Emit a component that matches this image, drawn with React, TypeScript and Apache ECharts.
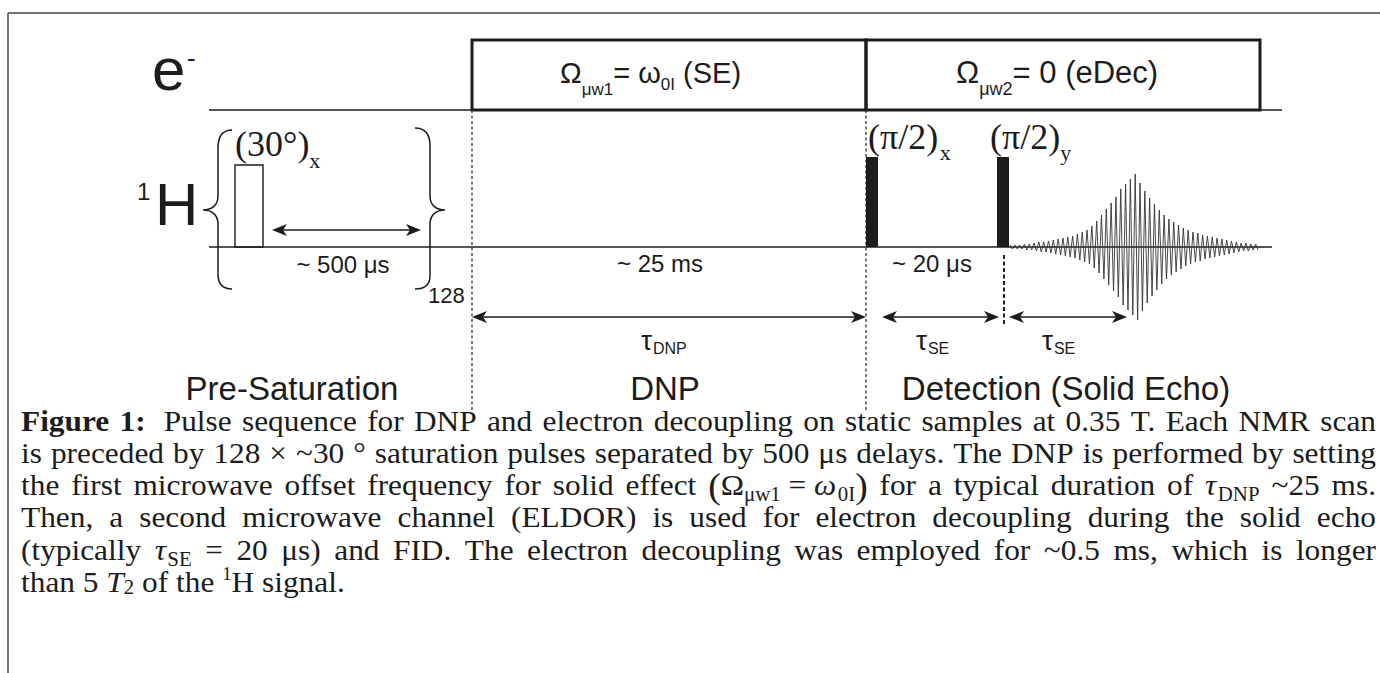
import React, { useEffect, useRef } from "react";
import * as echarts from "echarts";

const SANS = "'Liberation Sans', Arial, Helvetica, sans-serif";
const SERIF = "'Liberation Serif', 'Times New Roman', Times, serif";
const INK = "#1c1c1c";

// ---------------- data ----------------
const phaseLabels = ["Pre-Saturation", "DNP", "Detection (Solid Echo)"];
const delayLabels = ["~ 500 μs", "~ 25 ms", "~ 20 μs"];
const repeatLabel = "128";
const tauLabels = [["τ", "DNP"], ["τ", "SE"], ["τ", "SE"]];
// solid-echo envelope: peak amplitude of each oscillation cycle (px-scale units, max 73)
const fidEnvelope = [
  2, 2, 2, 3, 3, 4, 5, 5, 6, 7, 8, 9, 10, 11, 13, 15, 17, 21, 26, 32, 38, 44, 50, 58, 63, 68,
  73,
  64, 56, 49, 43, 37, 32, 28, 25, 22, 19, 17, 15, 14, 12, 11, 10, 9, 8, 7, 6, 5, 4, 4, 3, 3,
];
const captionLines = [
  "{b|Figure} {b|1:}{sp| } Pulse sequence for DNP and electron decoupling on static samples at 0.35 T. Each NMR scan",
  "is preceded by 128 × ~30 ° saturation pulses separated by 500 μs delays. The DNP is performed by setting",
  "the first microwave offset frequency for solid effect {P|(}{m|Ω}{ms|μw1}{sp| }{m|=}{sp| }{mi|ω}{g| }{ms|0I}{P|)} for a typical duration of {mi|τ}{g| }{ms|DNP} ~25 ms.",
  "Then, a second microwave channel (ELDOR) is used for electron decoupling during the solid echo",
  "(typically {mi|τ}{g| }{ms|SE} {m|=} {m|20} {m|μs}) and FID. The electron decoupling was employed for ~0.5 ms, which is longer",
  "than 5 {i|T}{t2|2} of the {sup|1}H signal.",
];
const captionJustified = [true, true, true, true, true, false];

// ---------------- layout ----------------
const LY = {
  frameX: 8, frameY: 13,
  eLineY: 110, hLineY: 247, lineX0: 209, eLineX1: 1282, hLineX1: 1272,
  boxTop: 40, box1: [472, 866], box2: [866, 1260],
  satPulse: { x: 235, y: 165, w: 28 },
  pi2: [866, 997], pi2Top: 157, pi2W: 12,
  dash: [472, 866], dashY: [110, 412], echoDashX: 1004, echoDashY: [255, 324],
  fid: { left: 1010, top: 174, width: 248, height: 146 },
  capL: 21, capR: 1376, capBase: [431, 463, 495, 527, 560, 592],
};

type Pc = { t: string; size: number; fam: string; weight?: string; style?: string; dy?: number; sx?: number };

let _ctx: CanvasRenderingContext2D | null = null;
function measure(p: Pc) {
  if (!_ctx) _ctx = document.createElement("canvas").getContext("2d");
  const sx = p.sx || 1;
  if (!_ctx) return p.t.length * p.size * 0.5 * sx;
  _ctx.font = `${p.style || "normal"} ${p.weight || "normal"} ${p.size}px ${p.fam}`;
  return _ctx.measureText(p.t).width * sx;
}

function T(x: number, baseline: number, p: Pc, align = "left") {
  const k = p.fam === SERIF ? 0.3375 : 0.3465;
  return {
    type: "text",
    x,
    y: baseline + (p.dy || 0) - k * p.size,
    scaleX: p.sx || 1,
    silent: true,
    style: {
      text: p.t,
      fontSize: p.size,
      fontFamily: p.fam,
      fontWeight: p.weight || "normal",
      fontStyle: p.style || "normal",
      fill: INK,
      textAlign: align,
      textVerticalAlign: "middle",
    },
  };
}

function runEls(x0: number, baseline: number, pcs: Pc[], align = "left") {
  const ws = pcs.map(measure);
  const total = ws.reduce((a, b) => a + b, 0);
  let x = align === "center" ? x0 - total / 2 : x0;
  const els: any[] = [];
  pcs.forEach((p, i) => {
    if (p.t.trim() !== "") els.push(T(x, baseline, p));
    x += ws[i];
  });
  return els;
}

const S = (t: string, size: number, dy = 0): Pc => ({ t, size, fam: SANS, dy });
const R = (t: string, size: number, dy = 0): Pc => ({ t, size, fam: SERIF, dy });

const CAP = 30;
const SX = 1.045;
const CS: Record<string, Omit<Pc, "t">> = {
  n: { size: CAP, fam: SERIF, sx: SX },
  b: { size: CAP, fam: SERIF, weight: "bold", sx: SX },
  i: { size: CAP, fam: SERIF, style: "italic", sx: SX },
  m: { size: CAP, fam: SERIF, sx: SX },
  sp: { size: CAP, fam: SERIF, sx: SX },
  g: { size: 6, fam: SERIF },
  mi: { size: CAP, fam: SERIF, style: "italic", sx: SX },
  ms: { size: 20, fam: SERIF, dy: 6, sx: SX },
  P: { size: 36, fam: SERIF, dy: 3, sx: SX },
  sup: { size: 18, fam: SERIF, dy: -12, sx: SX },
  t2: { size: 20, fam: SERIF, dy: 2, sx: SX },
};

function splitWords(line: string) {
  const words: string[] = [];
  let cur = "";
  let depth = 0;
  for (const ch of line) {
    if (ch === "{") depth++;
    if (ch === "}") depth--;
    if (ch === " " && depth === 0) {
      if (cur) words.push(cur);
      cur = "";
    } else cur += ch;
  }
  if (cur) words.push(cur);
  return words;
}
function parseWord(w: string): Pc[] {
  const out: Pc[] = [];
  const re = /\{(\w+)\|([^}]*)\}|([^{]+)/g;
  let m: RegExpExecArray | null;
  while ((m = re.exec(w))) {
    if (m[1]) out.push({ t: m[2], ...CS[m[1]] });
    else out.push({ t: m[3], ...CS.n });
  }
  return out;
}

function arrow(x1: number, x2: number, y: number) {
  const hl = 15, hw = 6, notch = 11;
  return [
    { type: "line", silent: true, shape: { x1: x1 + notch, y1: y, x2: x2 - notch, y2: y }, style: { stroke: INK, lineWidth: 1.6 } },
    { type: "polygon", silent: true, shape: { points: [[x1, y], [x1 + hl, y - hw], [x1 + notch, y], [x1 + hl, y + hw]] }, style: { fill: INK } },
    { type: "polygon", silent: true, shape: { points: [[x2, y], [x2 - hl, y - hw], [x2 - notch, y], [x2 - hl, y + hw]] }, style: { fill: INK } },
  ];
}

echarts.graphic.registerShape(
  "braceLeft",
  echarts.graphic.extendPath(
    "M232,130 C223,130 218,136 218,148 L218,196 C218,205 212,210 203,210 C212,210 218,215 218,224 L218,274 C218,284 223,289 232,289",
    {}
  )
);
echarts.graphic.registerShape(
  "braceRight",
  echarts.graphic.extendPath(
    "M415,128 C425,128 430,134 430,146 L430,196 C430,205 436,210 445,210 C436,210 430,215 430,224 L430,276 C430,284 425,289 415,289",
    {}
  )
);

function buildGraphic() {
  const g: any[] = [];
  const ln = (x1: number, y1: number, x2: number, y2: number, w = 1.5, dash?: number[], color = INK) => ({
    type: "line", silent: true, shape: { x1, y1, x2, y2 },
    style: { stroke: color, lineWidth: w, lineDash: dash },
  });
  // frame
  g.push(ln(LY.frameX, LY.frameY, 1380, LY.frameY, 1.5, undefined, "#444"));
  g.push(ln(LY.frameX, LY.frameY, LY.frameX, 673, 1.5, undefined, "#444"));
  // channel baselines
  g.push(ln(LY.lineX0, LY.eLineY, LY.box1[0], LY.eLineY, 1.5));
  g.push(ln(LY.box2[1], LY.eLineY, LY.eLineX1, LY.eLineY, 1.5));
  g.push(ln(LY.lineX0, LY.hLineY, LY.hLineX1, LY.hLineY, 1.5));
  // microwave boxes
  [LY.box1, LY.box2].forEach(([a, b]) =>
    g.push({ type: "rect", silent: true, shape: { x: a, y: LY.boxTop, width: b - a, height: LY.eLineY - LY.boxTop }, style: { fill: "none", stroke: INK, lineWidth: 3 } })
  );
  // dashed phase boundaries
  LY.dash.forEach((x) => g.push(ln(x, LY.dashY[0], x, LY.dashY[1], 1.3, [3, 2.5], "#333")));
  g.push(ln(LY.echoDashX, LY.echoDashY[0], LY.echoDashX, LY.echoDashY[1], 2, [4, 2.5], "#222"));
  // saturation pulse
  g.push({ type: "rect", silent: true, shape: { x: LY.satPulse.x, y: LY.satPulse.y, width: LY.satPulse.w, height: LY.hLineY - LY.satPulse.y }, style: { fill: "none", stroke: INK, lineWidth: 1.4 } });
  // pi/2 pulses
  LY.pi2.forEach((x) =>
    g.push({ type: "rect", silent: true, shape: { x, y: LY.pi2Top, width: LY.pi2W, height: LY.hLineY - LY.pi2Top }, style: { fill: INK } })
  );
  // braces
  g.push({ type: "braceLeft", silent: true, style: { fill: "none", stroke: INK, lineWidth: 1.5 } });
  g.push({ type: "braceRight", silent: true, style: { fill: "none", stroke: INK, lineWidth: 1.5 } });
  // arrows
  g.push(...arrow(272, 421, 230));
  g.push(...arrow(472, 866, 317));
  g.push(...arrow(882, 999, 317));
  g.push(...arrow(1009, 1127, 317));

  // channel labels
  g.push(T(152, 90, S("e", 60)));
  g.push(T(187, 67, S("-", 26)));
  g.push(T(137, 200, S("1", 24)));
  g.push(T(155, 225, S("H", 60)));

  // microwave box labels
  g.push(...runEls(560, 83, [S("Ω", 29), S("μw1", 17, 12), S("= ω", 29), S("0I", 17, 7), S(" ", 29), S("(SE)", 29)]));
  g.push(...runEls(956, 83, [S("Ω", 31), S("μw2", 18, 12), S("= 0 (eDec)", 31)]));

  // pulse labels
  g.push(...runEls(235, 156, [R("(30°)", 36), R("x", 22, 12)]));
  g.push(...runEls(868, 149, [R("(π/2)", 36), R(" ", 6), R("x", 22, 11)]));
  g.push(...runEls(990, 149, [R("(π/2)", 36), R("y", 22, 11)]));

  // delays
  g.push(T(343, 273, S(delayLabels[0], 24), "center"));
  g.push(T(660, 272, S(delayLabels[1], 24), "center"));
  g.push(T(932, 272, S(delayLabels[2], 24), "center"));
  g.push(T(428, 303, S(repeatLabel, 22)));

  // tau labels
  const tauX = [641, 916, 1042];
  tauLabels.forEach(([a, b], i) => g.push(...runEls(tauX[i], 350, [S(a, 28), S(" ", 3), S(b, 16, 4)])));

  // phase labels
  const phaseX = [292, 665, 1066];
  phaseLabels.forEach((t, i) => g.push(T(phaseX[i], 400, S(t, 33), "center")));

  // caption
  captionLines.forEach((line, li) => {
    const words = splitWords(line).map(parseWord);
    const widths = words.map((w) => w.reduce((a, p) => a + measure(p), 0));
    const sum = widths.reduce((a, b) => a + b, 0);
    const gap = captionJustified[li]
      ? (LY.capR - LY.capL - sum) / (words.length - 1)
      : measure({ t: " ", ...CS.n });
    let x = LY.capL;
    words.forEach((w, i) => {
      g.push(...runEls(x, LY.capBase[li], w));
      x += widths[i] + gap;
    });
  });
  return g;
}

function buildOption() {
  const fidData: number[][] = [];
  fidEnvelope.forEach((a, i) => {
    fidData.push([2 * i, a]);
    fidData.push([2 * i + 1, -a]);
  });
  return {
    animation: false,
    backgroundColor: "#ffffff",
    grid: { left: LY.fid.left, top: LY.fid.top, width: LY.fid.width, height: LY.fid.height },
    xAxis: { type: "value", min: 0, max: fidData.length - 1, show: false },
    yAxis: { type: "value", min: -73, max: 73, show: false },
    series: [
      {
        type: "line",
        data: fidData,
        symbol: "none",
        silent: true,
        lineStyle: { width: 0.9, color: "#333" },
        z: 3,
      },
    ],
    graphic: { elements: buildGraphic() },
  };
}

export default function App() {
  const ref = useRef<HTMLDivElement>(null);
  useEffect(() => {
    if (!ref.current) return;
    const chart = echarts.init(ref.current, undefined, { renderer: "svg" });
    chart.setOption(buildOption() as any);
    return () => chart.dispose();
  }, []);
  return (
    <div
      ref={ref}
      style={{ position: "absolute", left: 0, top: 0, width: 1380, height: 673, background: "#fff" }}
    />
  );
}
